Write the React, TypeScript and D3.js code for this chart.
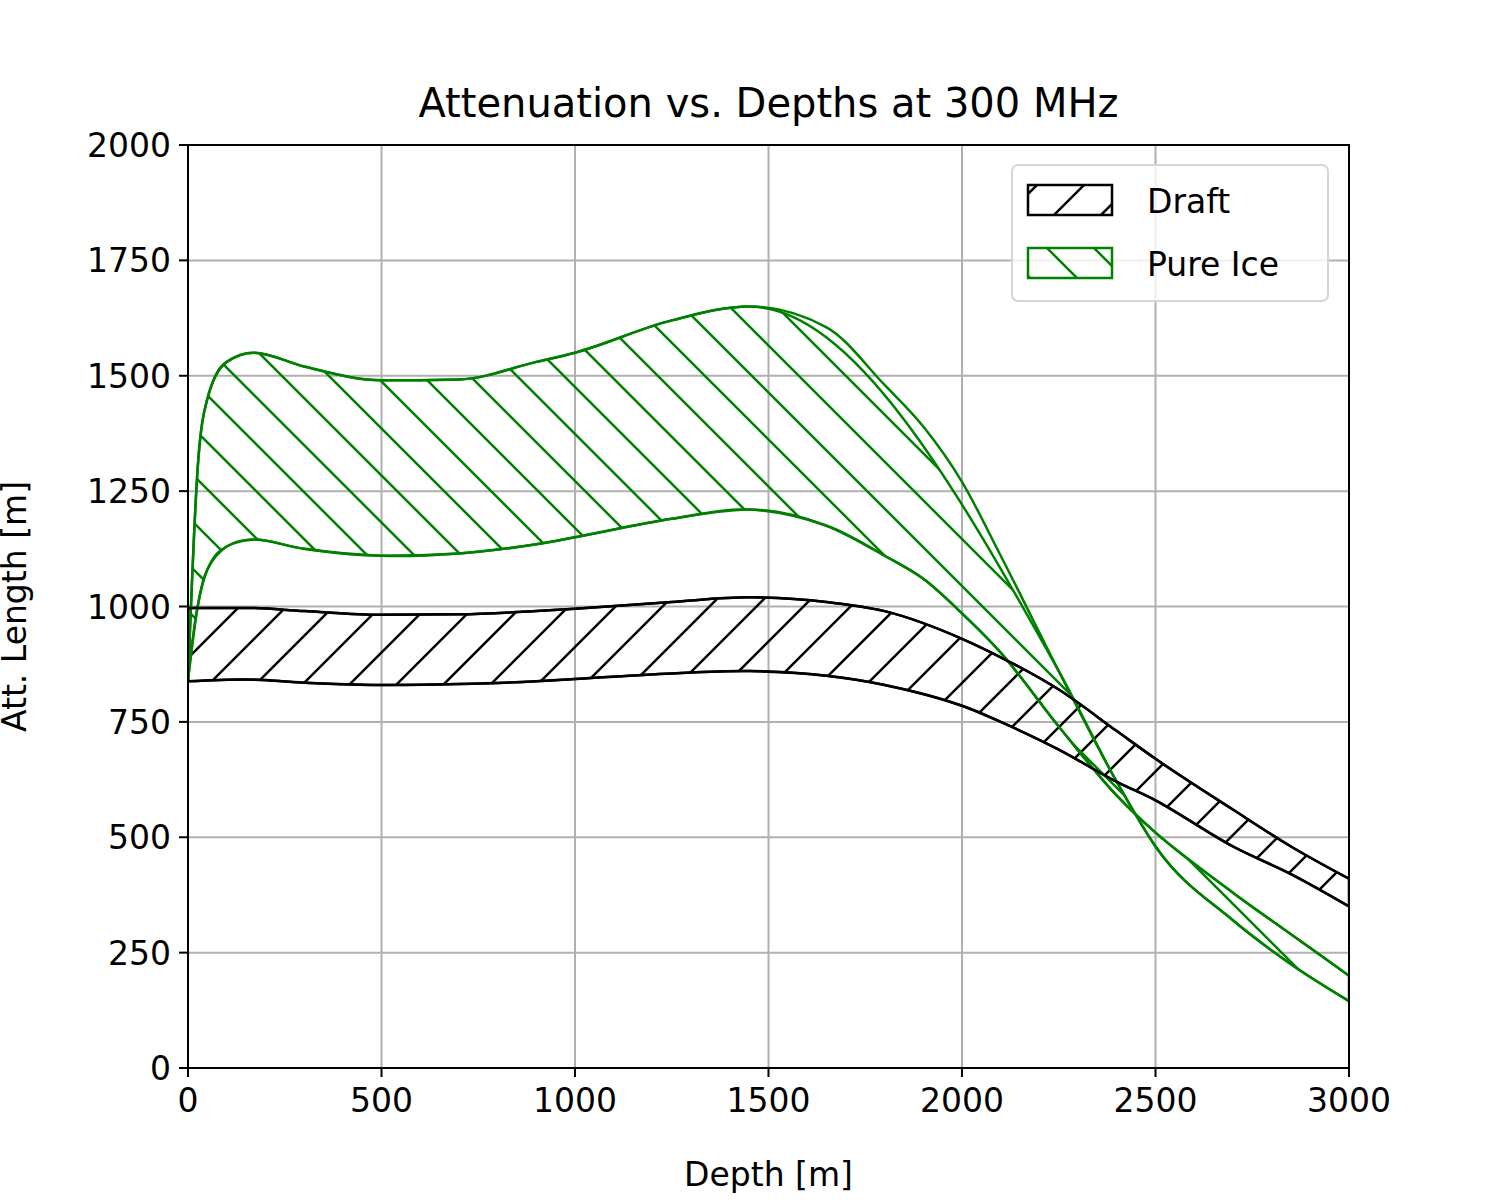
import React from "react";
import * as d3 from "d3";

const iceDepth = [0,25,50,100,170,300,500,700,900,1000,1250,1450,1650,1800,1900,2000,2100,2250,2400,2500,2700,2850,3000];
const iceUpper = [840,1300,1450,1530,1550,1520,1490,1492,1530,1550,1620,1650,1605,1480,1390,1270,1110,860,620,480,320,225,145];
const iceLower = [840,1000,1080,1130,1145,1125,1110,1115,1135,1150,1190,1210,1175,1110,1060,985,900,740,590,510,380,290,200];
const coarseSkip = [1650,1800,1900,2000,2100];

const draftDepth = [0,150,300,500,700,900,1000,1250,1450,1650,1800,2000,2100,2250,2400,2500,2700,2850,3000];
const draftUpper = [997,997,990,982,983,990,995,1010,1020,1010,990,930,890,820,730,670,560,480,410];
const draftLower = [838,842,835,830,832,838,843,855,860,850,830,785,750,690,620,580,480,420,350];

const xTicks = [0,500,1000,1500,2000,2500,3000];
const yTicks = [0,250,500,750,1000,1250,1500,1750,2000];

const L = 188, R = 1349, T = 145, B = 1068;
const font = "DejaVu Sans";

export default function App() {
  const x = d3.scaleLinear().domain([0, 3000]).range([L, R]);
  const y = d3.scaleLinear().domain([0, 2000]).range([B, T]);
  const line = d3.line<[number, number]>().x(d => x(d[0])).y(d => y(d[1])).curve(d3.curveMonotoneX);
  const pts = (ds: number[], vs: number[]) => ds.map((d, i) => [d, vs[i]] as [number, number]);
  const band = (ds: number[], up: number[], lo: number[]) => {
    const a = line(pts(ds, up)) || "";
    const b = (d3.line<[number, number]>().x(d => x(d[0])).y(d => y(d[1])).curve(d3.curveCatmullRom)(pts(ds, lo).reverse()) || "").replace(/^M/, "L");
    return a + b + "Z";
  };
  const coarseIdx = iceDepth.map((d, i) => i).filter(i => !coarseSkip.includes(iceDepth[i]));
  const cd = coarseIdx.map(i => iceDepth[i]);
  const cu = coarseIdx.map(i => iceUpper[i]);
  const rev = d3.line<[number, number]>().x(d => x(d[0])).y(d => y(d[1])).curve(d3.curveCatmullRom);
  const iceBand = (line(pts(cd, cu)) || "") + (rev(pts(iceDepth, iceLower).reverse()) || "").replace(/^M/, "L") + "Z";
  const draftBand = band(draftDepth, draftUpper, draftLower);

  return (
    <svg width={1500} height={1200} style={{ display: "block", background: "#fff", position: "absolute", left: 0, top: 0 }}>
      <defs>
        <pattern id="hb" patternUnits="userSpaceOnUse" width={47} height={47}>
          <path d="M-5,5 L5,-5 M0,47 L47,0 M42,52 L52,42" stroke="#000" strokeWidth={2.5} />
        </pattern>
        <pattern id="hg" patternUnits="userSpaceOnUse" width={47} height={47}>
          <path d="M-5,42 L5,52 M0,0 L47,47 M42,-5 L52,5" stroke="green" strokeWidth={2.5} />
        </pattern>
        <clipPath id="cp"><rect x={L} y={T} width={R - L} height={B - T} /></clipPath>
      </defs>
      <rect width={1500} height={1200} fill="#fff" />
      {xTicks.map(t => <line key={"gx" + t} x1={x(t)} x2={x(t)} y1={T} y2={B} stroke="#b0b0b0" strokeWidth={2} />)}
      {yTicks.map(t => <line key={"gy" + t} x1={L} x2={R} y1={y(t)} y2={y(t)} stroke="#b0b0b0" strokeWidth={2} />)}
      <g clipPath="url(#cp)">
        <path d={draftBand} fill="url(#hb)" stroke="#000" strokeWidth={2.5} />
        <path d={iceBand} fill="url(#hg)" stroke="green" strokeWidth={2.5} />
        <path d={line(pts(iceDepth, iceUpper)) || ""} fill="none" stroke="green" strokeWidth={2.5} />
        <path d={line(pts(iceDepth, iceLower)) || ""} fill="none" stroke="green" strokeWidth={2.5} />
        <path d={line(pts(draftDepth, draftUpper)) || ""} fill="none" stroke="#000" strokeWidth={2.5} />
        <path d={line(pts(draftDepth, draftLower)) || ""} fill="none" stroke="#000" strokeWidth={2.5} />
      </g>
      <rect x={L} y={T} width={R - L} height={B - T} fill="none" stroke="#000" strokeWidth={2} />
      {xTicks.map(t => (
        <g key={"tx" + t}>
          <line x1={x(t)} x2={x(t)} y1={B} y2={B + 9} stroke="#000" strokeWidth={2} />
          <text x={x(t)} y={B + 44} textAnchor="middle" fontFamily={font} fontSize={33}>{t}</text>
        </g>
      ))}
      {yTicks.map(t => (
        <g key={"ty" + t}>
          <line x1={L - 9} x2={L} y1={y(t)} y2={y(t)} stroke="#000" strokeWidth={2} />
          <text x={L - 17} y={y(t) + 12} textAnchor="end" fontFamily={font} fontSize={33}>{t}</text>
        </g>
      ))}
      <text x={(L + R) / 2} y={1186} textAnchor="middle" fontFamily={font} fontSize={33}>Depth [m]</text>
      <text transform={`translate(26,${(T + B) / 2}) rotate(-90)`} textAnchor="middle" fontFamily={font} fontSize={33}>Att. Length [m]</text>
      <text x={(L + R) / 2} y={117} textAnchor="middle" fontFamily={font} fontSize={40}>Attenuation vs. Depths at 300 MHz</text>
      <rect x={1012} y={165} width={316} height={136} rx={6} fill="#fff" fillOpacity={0.8} stroke="#d5d5d5" strokeWidth={2} />
      <rect x={1028} y={185} width={84} height={30} fill="url(#hb)" stroke="#000" strokeWidth={2.5} />
      <rect x={1028} y={248} width={84} height={30} fill="url(#hg)" stroke="green" strokeWidth={2.5} />
      <text x={1147} y={213} fontFamily={font} fontSize={33}>Draft</text>
      <text x={1147} y={276} fontFamily={font} fontSize={33}>Pure Ice</text>
    </svg>
  );
}
